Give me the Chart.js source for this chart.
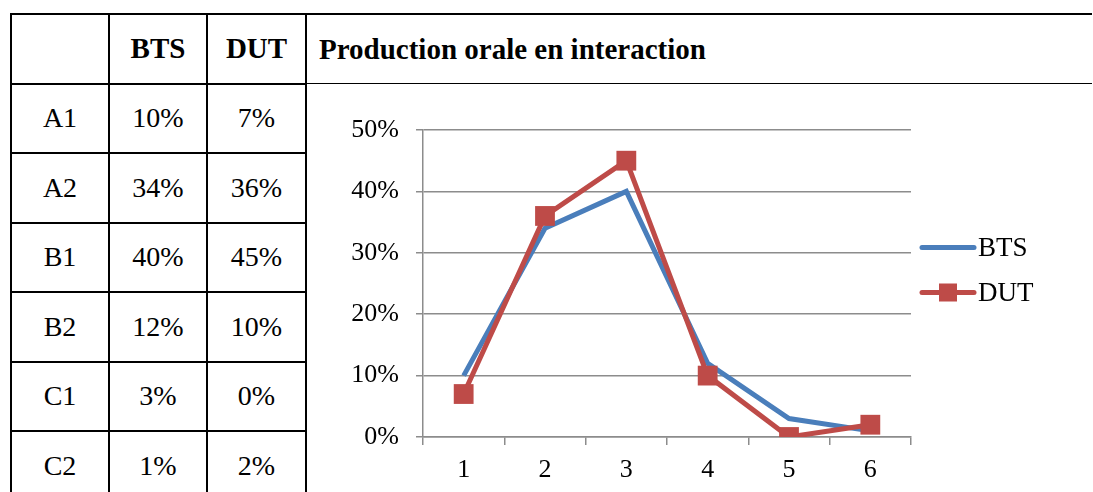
<!DOCTYPE html>
<html>
<head>
<meta charset="utf-8">
<script src="https://cdn.jsdelivr.net/npm/chart.js@4/dist/chart.umd.min.js"></script>
<style>
  body { margin: 0; background: #fff; width: 1093px; height: 492px; overflow: hidden; position: relative; font-family: "Liberation Serif", Tinos, serif; }
  #tbl { position: absolute; left: 10px; top: 13px; border-collapse: collapse; table-layout: fixed; font-family: "Liberation Serif", Tinos, serif; }
  #tbl td { border: 2px solid #000; height: 67.5px; padding: 0; text-align: center; font-size: 28px; color: #000; }
  #tbl td.head { font-weight: bold; font-size: 29px; }
  #tbl td.title { text-align: left; padding-left: 12px; font-weight: bold; font-size: 29px; border-right: none; border-bottom: 1px solid #000; }
  #tbl td.blank { border: none; border-left: 2px solid #000; }
  #chart { position: absolute; left: 310px; top: 95px; z-index: 1; }
</style>
</head>
<body>
<table id="tbl">
  <colgroup><col style="width:98px"><col style="width:98px"><col style="width:99px"><col style="width:786px"></colgroup>
  <tbody id="tbody"></tbody>
</table>
<canvas id="chart" width="783" height="397"></canvas>
<script>
// data
let levels = ["A1", "A2", "B1", "B2", "C1", "C2"];
let xLabels = ["1", "2", "3", "4", "5", "6"];
let btsValues = [10, 34, 40, 12, 3, 1];
let dutValues = [7, 36, 45, 10, 0, 2];
let yTicks = [0, 10, 20, 30, 40, 50];
let chartTitle = "Production orale en interaction";

let blue = "#4A7EBB";
let red = "#BE4B48";
let serif = "'Liberation Serif', Tinos, serif";

// table
let tbody = document.getElementById("tbody");
let head = document.createElement("tr");
head.innerHTML = '<td></td><td class="head">BTS</td><td class="head">DUT</td><td class="title">' + chartTitle + '</td>';
tbody.appendChild(head);
for (let i = 0; i < levels.length; i++) {
  let tr = document.createElement("tr");
  tr.innerHTML = "<td>" + levels[i] + "</td><td>" + btsValues[i] + "%</td><td>" + dutValues[i] + "%</td>";
  if (i == 0) {
    let blank = document.createElement("td");
    blank.className = "blank";
    blank.rowSpan = levels.length;
    tr.appendChild(blank);
  }
  tbody.appendChild(tr);
}

// legend drawn by hand: line + square for DUT
let sideLegend = {
  id: "sideLegend",
  afterDraw(chart) {
    let ctx = chart.ctx;
    let area = chart.chartArea;
    let x0 = area.right + 9;
    let mid = (area.top + area.bottom) / 2 - 14;
    let items = [
      { text: "BTS", color: blue, marker: false, y: mid - 22 },
      { text: "DUT", color: red, marker: true, y: mid + 23 }
    ];
    ctx.save();
    ctx.font = "27px " + serif;
    ctx.textBaseline = "middle";
    items.forEach(function(it) {
      ctx.strokeStyle = it.color;
      ctx.lineWidth = 5;
      ctx.lineCap = "round";
      ctx.beginPath();
      ctx.moveTo(x0 + 2, it.y);
      ctx.lineTo(x0 + 54, it.y);
      ctx.stroke();
      if (it.marker) {
        ctx.fillStyle = it.color;
        ctx.fillRect(x0 + 19, it.y - 9, 18, 18);
      }
      ctx.fillStyle = "#000";
      ctx.fillText(it.text, x0 + 58, it.y + 1);
    });
    ctx.restore();
  }
};

Chart.defaults.font.family = serif;

new Chart(document.getElementById("chart"), {
  type: "line",
  data: {
    labels: xLabels,
    datasets: [
      {
        label: "BTS",
        data: btsValues,
        borderColor: blue,
        backgroundColor: blue,
        borderWidth: 5,
        pointRadius: 0,
        borderJoinStyle: "miter",
        order: 1
      },
      {
        label: "DUT",
        data: dutValues,
        borderColor: red,
        backgroundColor: red,
        borderWidth: 5,
        pointStyle: "rect",
        pointRadius: 14,
        pointBorderWidth: 0,
        borderJoinStyle: "miter",
        order: 0
      }
    ]
  },
  plugins: [sideLegend],
  options: {
    responsive: false,
    animation: false,
    layout: { padding: { top: 35, right: 182, left: 0, bottom: 0 } },
    scales: {
      x: {
        offset: true,
        grid: { offset: true, drawOnChartArea: false, drawTicks: true, tickLength: 8, color: "#8c8c8c", lineWidth: 1.5 },
        border: { display: true, color: "#8c8c8c", width: 1.5 },
        ticks: { color: "#000", font: { family: serif, size: 26 }, padding: 10 },
        afterFit: function(scale) { scale.height = 55; }
      },
      y: {
        min: yTicks[0],
        max: yTicks[yTicks.length - 1],
        afterBuildTicks: function(scale) { scale.ticks = yTicks.map(function(v) { return { value: v }; }); },
        grid: { color: "#8c8c8c", lineWidth: 1.5, tickLength: 7 },
        border: { display: true, color: "#8c8c8c", width: 1.5 },
        ticks: {
          color: "#000",
          font: { family: serif, size: 26 },
          padding: 17,
          callback: function(v) { return v + "%"; }
        },
        afterFit: function(scale) { scale.width = 113; }
      }
    },
    plugins: {
      legend: { display: false },
      tooltip: { enabled: false }
    }
  }
});
</script>
</body>
</html>
